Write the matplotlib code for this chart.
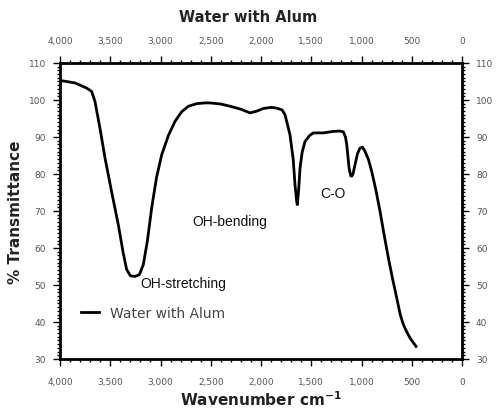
"""
Espectro FTIR: agua con alumbre
"""
import matplotlib.pyplot as plt
from matplotlib.ticker import MultipleLocator, FuncFormatter

numero_onda = [3983, 3850, 3734, 3685, 3652, 3600, 3552, 3485, 3420, 3370, 3337,
               3300, 3254, 3210, 3171, 3130, 3088, 3040, 2988, 2920, 2856, 2790,
               2723, 2640, 2557, 2507, 2400, 2308, 2200, 2110, 2040, 1977, 1900,
               1844, 1790, 1761, 1712, 1680, 1662, 1645, 1639, 1625, 1612, 1590,
               1562, 1520, 1480, 1380, 1281, 1220, 1181, 1160, 1147, 1124, 1108,
               1098, 1085, 1065, 1040, 1015, 990, 965, 930, 899, 860, 816, 775,
               733, 690, 650, 615, 584, 550, 518, 490, 458]
transmitancia = [105.2, 104.6, 103.2, 102.3, 99.6, 92.0, 84.3, 75.0, 66.3, 58.5, 54.2,
                 52.5, 52.3, 52.8, 55.5, 62.0, 70.8, 79.0, 85.2, 90.5, 94.2, 96.8,
                 98.3, 99.0, 99.2, 99.2, 98.9, 98.3, 97.5, 96.5, 97.0, 97.7, 98.0,
                 97.8, 97.3, 96.0, 90.6, 84.0, 77.1, 72.5, 71.7, 76.0, 81.6, 86.0,
                 88.8, 90.3, 91.1, 91.1, 91.5, 91.6, 91.4, 90.0, 87.9, 81.6, 79.5,
                 79.4, 80.0, 82.5, 85.5, 87.0, 87.2, 86.1, 83.8, 80.7, 76.0, 69.9,
                 63.5, 57.3, 51.5, 46.5, 42.0, 39.3, 37.3, 35.7, 34.6, 33.4]

etiquetas = ['OH-stretching', 'OH-bending', 'C-O']
pos_etiquetas = [(3204, 50.5), (2687, 67.3), (1413, 74.9)]

gris = '#555555'

fig = plt.figure(figsize=(4.97, 4.10), dpi=100)
ax = fig.add_axes([0.1207, 0.122, 0.809, 0.722])

ax.plot(numero_onda, transmitancia, color='black', linewidth=2.0,
        label='Water with Alum')

ax.set_xlim(4000, 0)
ax.set_ylim(30, 110)

ax.xaxis.set_major_locator(MultipleLocator(500))
ax.xaxis.set_minor_locator(MultipleLocator(100))
ax.yaxis.set_major_locator(MultipleLocator(10))
ax.yaxis.set_minor_locator(MultipleLocator(1))
ax.xaxis.set_major_formatter(FuncFormatter(lambda v, p: f'{int(v):,}'))

ax.tick_params(which='both', direction='out', top=True, right=True,
               labeltop=True, labelright=True, colors='black',
               labelcolor=gris, labelsize=6.5, width=1.0)
ax.tick_params(which='major', length=5)
ax.tick_params(which='minor', length=2.5)
ax.tick_params(axis='x', which='major', pad=8)
ax.tick_params(axis='y', which='major', pad=5)
for sp in ax.spines.values():
    sp.set_linewidth(2.0)

for texto, (xv, yv) in zip(etiquetas, pos_etiquetas):
    ax.text(xv, yv, texto, fontsize=10, family='Liberation Sans',
            ha='left', va='center', color='#111111')

ax.legend(loc='lower left', bbox_to_anchor=(0.02, 0.09), frameon=False,
          fontsize=10, handlelength=1.3, labelcolor='#444444')

fig.text(0.5, 0.958, 'Water with Alum', ha='center', va='center',
         fontsize=10.5, fontweight='bold', color='#222222')
ax.set_xlabel('Wavenumber cm$^{\\mathbf{-1}}$', fontsize=11, fontweight='bold',
              color='#222222', labelpad=2)
ax.set_ylabel('% Transmittance', fontsize=11, fontweight='bold',
              color='#222222', labelpad=4)

fig.savefig('out.png', dpi=100)
